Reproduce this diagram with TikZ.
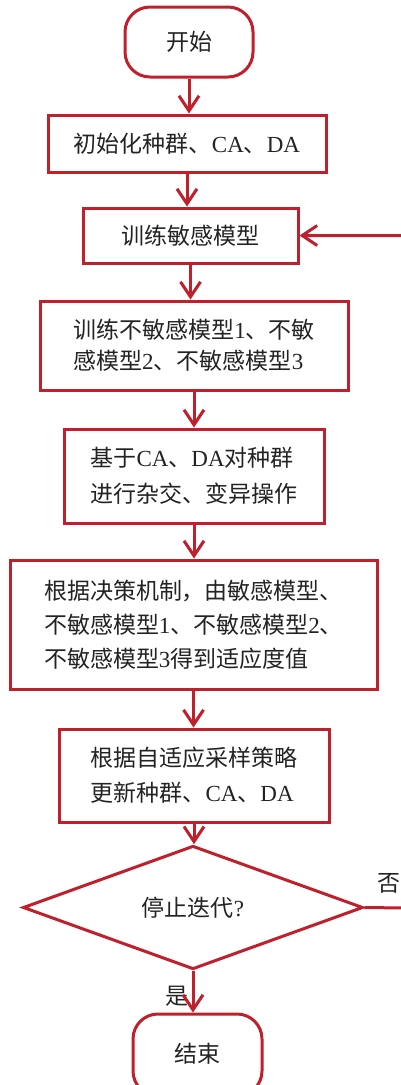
\documentclass[tikz,border=0pt]{standalone}
\usepackage{fontspec}
\setmainfont{Liberation Serif}
\newfontfamily\cjk{Noto Sans CJK SC}
\usetikzlibrary{arrows.meta,shapes.geometric}
\definecolor{fr}{RGB}{192,32,44}
\definecolor{tx}{RGB}{35,35,35}
\newcommand\zhs[1]{{\cjk #1}}
\tikzset{
  box/.style={draw=fr,line width=3pt,rectangle,align=left,text=tx,
    font=\fontsize{23}{34}\selectfont,inner sep=0pt},
  term/.style={box,rounded corners=25pt},
  decision/.style={draw=fr,line width=3pt,diamond,inner sep=0pt,text=tx,
    font=\fontsize{23}{34}\selectfont},
  arr/.style={draw=fr,line width=3pt,-{Straight Barb[length=15pt,width=20pt]}},
  lab/.style={text=tx,font=\fontsize{23}{28}\selectfont,inner sep=0pt}
}
\begin{document}
\begin{tikzpicture}[x=1pt,y=-1pt]
\useasboundingbox (0,0) rectangle (401,1085);
\node[term,minimum width=128pt,minimum height=70pt] (start) at (189,42) {\raisebox{-2pt}{\zhs{开始}}};
\node[box,minimum width=278pt,minimum height=57pt] (init) at (187,143.5) {\zhs{初始化种群、}CA\zhs{、}DA};
\node[box,minimum width=215pt,minimum height=55pt] (train) at (190.5,235.5) {\zhs{训练敏感模型}};
\node[box,minimum width=308pt,minimum height=89pt,font=\fontsize{23}{31}\selectfont] (ins) at (194,345.5)
  {\zhs{训练不敏感模型}1\zhs{、不敏}\\\zhs{感模型}2\zhs{、不敏感模型}3};
\node[box,minimum width=260pt,minimum height=94pt,font=\fontsize{23}{36}\selectfont] (cross) at (194,476)
  {\zhs{基于}CA\zhs{、}DA\zhs{对种群}\\\zhs{进行杂交、变异操作}};
\node[box,minimum width=367pt,minimum height=129pt] (fit) at (193.5,624.5)
  {\zhs{根据决策机制，由敏感模型、}\\\zhs{不敏感模型}1\zhs{、不敏感模型}2\zhs{、}\\\zhs{不敏感模型}3\zhs{得到适应度值}};
\node[box,minimum width=270pt,minimum height=93pt,font=\fontsize{23}{35}\selectfont] (upd) at (194,775.5)
  {\zhs{根据自适应采样策略}\\\zhs{更新种群、}CA\zhs{、}DA};
\node[decision,minimum width=340pt,minimum height=99pt] (dia) at (193,907.5) {\zhs{停止迭代}?};
\node[term,minimum width=129pt,minimum height=82pt] (stop) at (197.5,1055) {\raisebox{4pt}{\zhs{结束}}};
\coordinate (loop) at (406,908);
\node[lab] (no) at (389,883) {\zhs{否}};
\node[lab] (yes) at (177,996) {\zhs{是}};
\draw[arr] (start) -- (start |- init.north);
\draw[arr] (init) -- (init |- train.north);
\draw[arr] (train) -- (train |- ins.north);
\draw[arr] (ins) -- (ins |- cross.north);
\draw[arr] (cross) -- (cross |- fit.north);
\draw[arr] (fit) -- (fit |- upd.north);
\draw[arr] (upd) -- (upd |- dia.north);
\draw[arr] (dia.south) -- (dia.south |- stop.north);
\draw[arr] (dia.east) -- (loop) |- (train.east);
\end{tikzpicture}
\end{document}
